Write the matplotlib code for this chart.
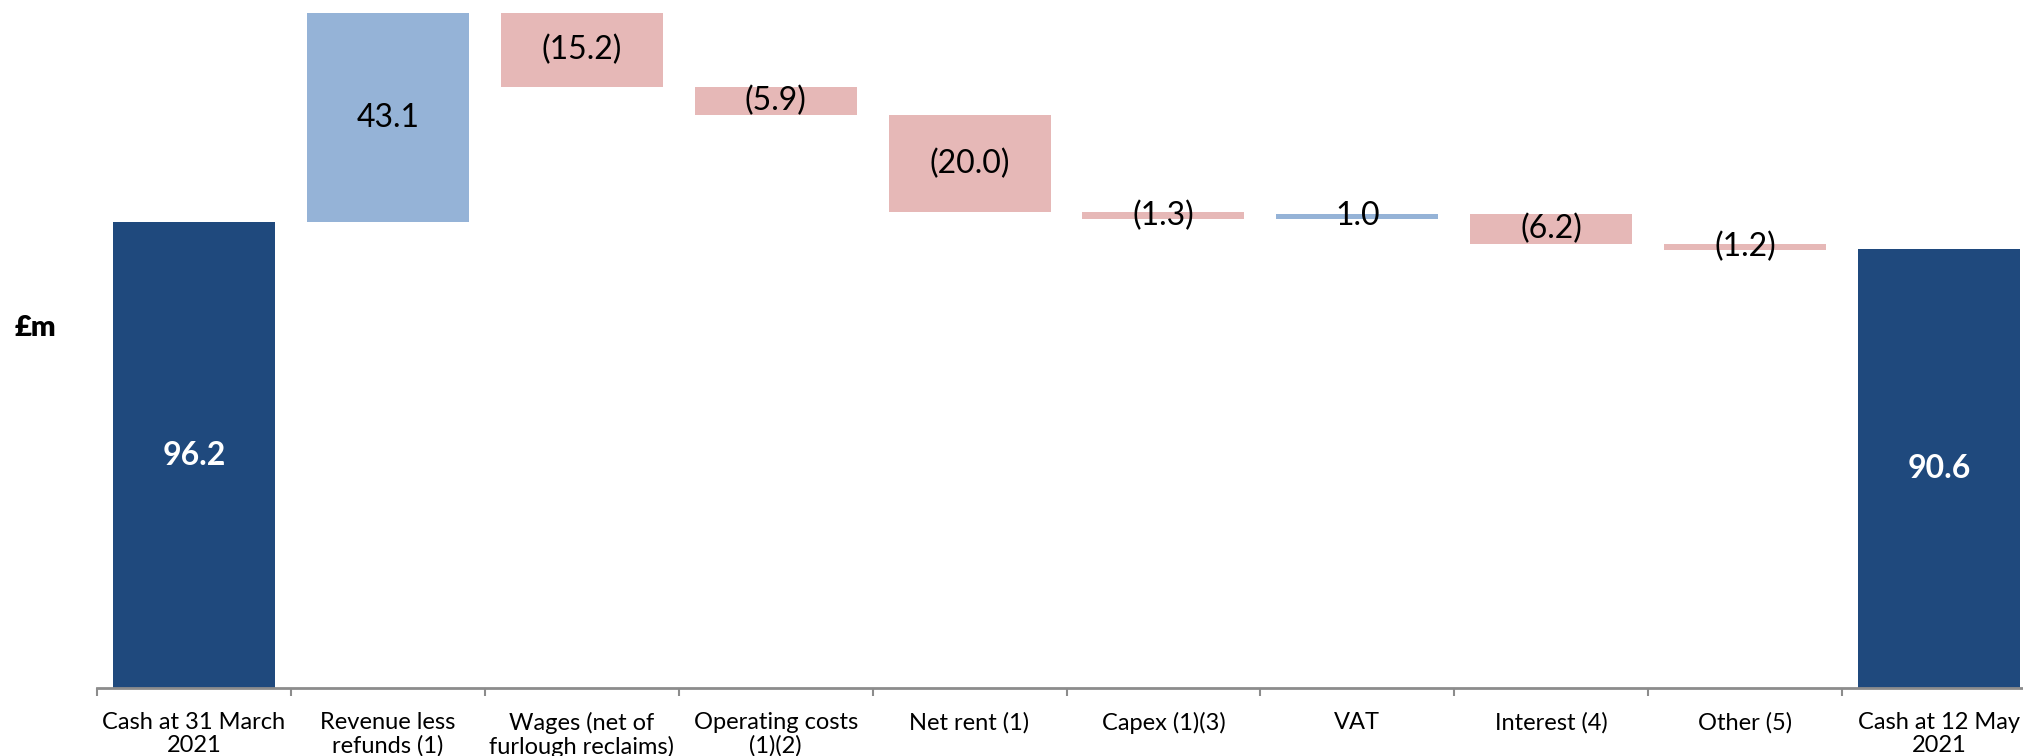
import matplotlib
matplotlib.use("Agg")
import matplotlib.pyplot as plt
from matplotlib.ticker import FixedLocator
import numpy as np

# Cash bridge, £m
categories = [
    "Cash at 31 March\n2021",
    "Revenue less\nrefunds (1)",
    "Wages (net of\nfurlough reclaims)",
    "Operating costs\n(1)(2)",
    "Net rent (1)",
    "Capex (1)(3)",
    "VAT",
    "Interest (4)",
    "Other (5)",
    "Cash at 12 May\n2021",
]
opening_cash = 96.2
movements = [43.1, -15.2, -5.9, -20.0, -1.3, 1.0, -6.2, -1.2]
closing_cash = 90.6

DARK = "#1F497D"
UP = "#95B3D7"
DOWN = "#E6B8B7"
AXIS_GREY = "#8C8C8C"

plt.rcParams["font.family"] = ["Lato", "DejaVu Sans"]

W, H, DPI = 2023, 756, 100
fig = plt.figure(figsize=(W / DPI, H / DPI), dpi=DPI)

# plot area runs from the baseline to the top edge; the category axis
# spills slightly past the right edge of the canvas
left_px, base_px, slot_px = 97, 688, 193.9
ax = fig.add_axes([left_px / W, (H - base_px) / H,
                   slot_px * len(categories) / W, base_px / H])

x = np.arange(len(categories))
bar_w = 0.835

# running totals for the floating bars
level = opening_cash
bottoms, heights, colours = [], [], []
for m in movements:
    new_level = level + m
    bottoms.append(min(level, new_level))
    heights.append(abs(m))
    colours.append(UP if m > 0 else DOWN)
    level = new_level

ax.bar(x[0], opening_cash, width=bar_w, color=DARK, zorder=2)
ax.bar(x[1:-1], heights, bottom=bottoms, width=bar_w, color=colours, zorder=2)
ax.bar(x[-1], closing_cash, width=bar_w, color=DARK, zorder=2)

label_size = 23
ax.text(x[0], opening_cash / 2, f"{opening_cash:.1f}", ha="center", va="center",
        color="white", fontsize=label_size, fontweight="bold", zorder=3)
ax.text(x[-1], closing_cash / 2, f"{closing_cash:.1f}", ha="center", va="center",
        color="white", fontsize=label_size, fontweight="bold", zorder=3)
for xi, b, h, m in zip(x[1:-1], bottoms, heights, movements):
    txt = f"{m:.1f}" if m > 0 else f"({abs(m):.1f})"
    ax.text(xi, b + h / 2, txt, ha="center", va="center",
            color="black", fontsize=label_size, zorder=3)

ax.set_xlim(-0.5, len(categories) - 0.5)
ax.set_ylim(0, base_px / 4.844)

for side in ("left", "right", "top"):
    ax.spines[side].set_visible(False)
ax.spines["bottom"].set_color(AXIS_GREY)
ax.spines["bottom"].set_linewidth(2)

ax.set_yticks([])
ax.set_xticks(x)
ax.set_xticklabels(categories, fontsize=17, linespacing=1.12)
ax.tick_params(axis="x", which="major", length=0, pad=17)
ax.xaxis.set_minor_locator(FixedLocator(np.arange(len(categories) + 1) - 0.5))
ax.tick_params(axis="x", which="minor", length=5.5, width=1.5,
               color=AXIS_GREY, direction="out")

fig.text(15 / W, 1 - 328 / H, "£m", fontsize=21, fontweight="heavy",
         ha="left", va="center")

fig.savefig("out.png", dpi=DPI)
